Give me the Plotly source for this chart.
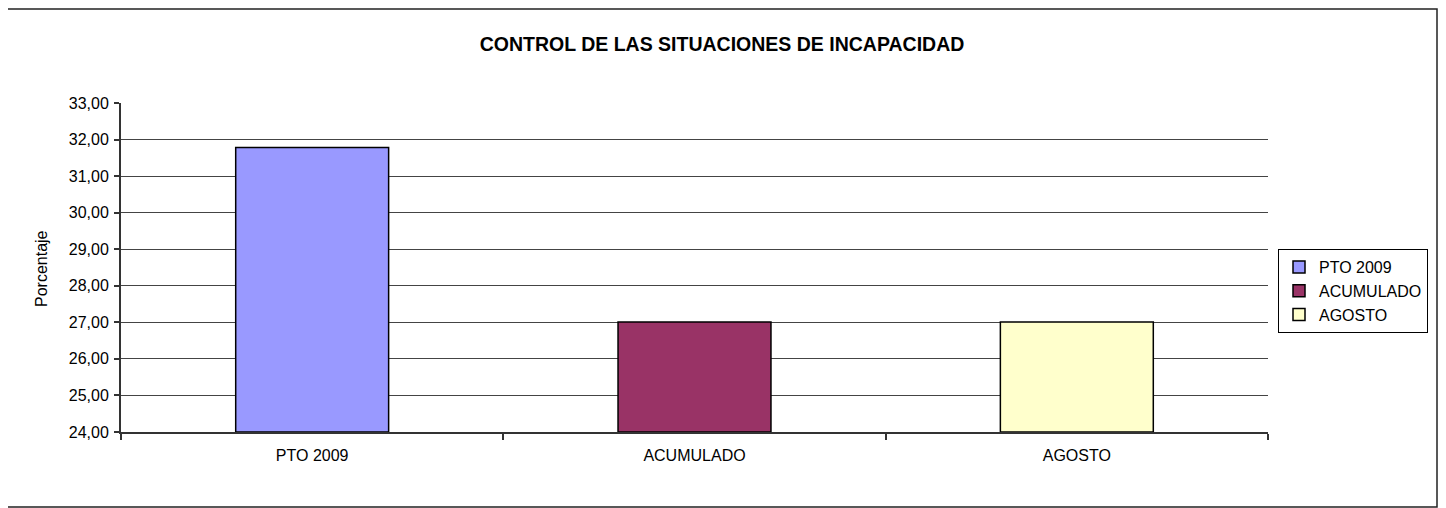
import plotly.graph_objects as go

categories = ["PTO 2009", "ACUMULADO", "AGOSTO"]
values = [31.78, 27.01, 27.01]
colors = ["#9999FF", "#993366", "#FFFFCC"]
y_ticks = [24, 25, 26, 27, 28, 29, 30, 31, 32, 33]
Y_MIN, Y_MAX = 24, 33

# page body has an 8px margin: work in screen coords then subtract it
OFF = 8
W, H = 1446 - OFF, 508 - OFF
PL, PR, PT, PB = 121, 1268, 103, 432  # plot box in screen coords
L, T = PL - OFF, PT - OFF
R, B = W - (PR - OFF), H - (PB - OFF)
pw, ph = PR - PL, PB - PT

def px(x):
    return (x - PL) / pw

def py(y):
    return (PB - y) / ph

fig = go.Figure()
for c, v, col in zip(categories, values, colors):
    fig.add_trace(go.Bar(
        x=[c], y=[v], name=c, base=0,
        marker=dict(color=col, line=dict(color="#000000", width=1.5)),
    ))

FONT = "Liberation Sans, Arial, sans-serif"
fig.update_layout(
    width=W, height=H,
    margin=dict(l=L, r=R, t=T, b=B, pad=0),
    paper_bgcolor="white", plot_bgcolor="white",
    barmode="overlay", bargap=0.6,
    separators=",.",
    font=dict(family=FONT, size=16, color="#000000"),
    title=dict(text="<b>CONTROL DE LAS SITUACIONES DE INCAPACIDAD</b>",
               x=(722 - OFF) / W, xanchor="center", xref="container",
               y=1 - (44 - OFF) / H, yanchor="middle", yref="container",
               font=dict(family=FONT, size=19.5, color="#000000")),
    showlegend=True,
    legend=dict(x=px(1278), xanchor="left",
                y=py(291), yanchor="middle",
                bordercolor="#000000", borderwidth=1, bgcolor="white",
                font=dict(family=FONT, size=16, color="#000000"),
                itemwidth=30, tracegroupgap=0),
    xaxis=dict(type="category", categoryorder="array", categoryarray=categories,
               showline=True, linecolor="#333333", linewidth=2,
               ticks="outside", ticklen=6, tickcolor="#333333", tickwidth=1.5,
               tickson="boundaries", showgrid=False, zeroline=False,
               ticklabelstandoff=8,
               tickfont=dict(family=FONT, size=16)),
    yaxis=dict(range=[Y_MIN, Y_MAX], tickvals=y_ticks, tickformat=".2f",
               showline=True, linecolor="#333333", linewidth=2,
               ticks="outside", ticklen=5, tickcolor="#333333", tickwidth=1.5,
               showgrid=True, gridcolor="#444444", gridwidth=1,
               zeroline=False, ticklabelstandoff=2,
               tickfont=dict(family=FONT, size=16)),
    annotations=[dict(text="Porcentaje", textangle=-90, showarrow=False,
                      xref="paper", yref="paper",
                      x=px(41), y=py(269), xanchor="center", yanchor="middle",
                      font=dict(family=FONT, size=16, color="#000000"))],
    shapes=[dict(type="rect", xref="paper", yref="paper",
                 x0=px(6), x1=px(1437), y0=py(507), y1=py(9),
                 line=dict(color="#222222", width=1.5), fillcolor="rgba(0,0,0,0)",
                 layer="below")],
)
for tr in fig.data:
    tr.base = Y_MIN
    tr.y = [tr.y[0] - Y_MIN]

fig.write_html("out.html")
